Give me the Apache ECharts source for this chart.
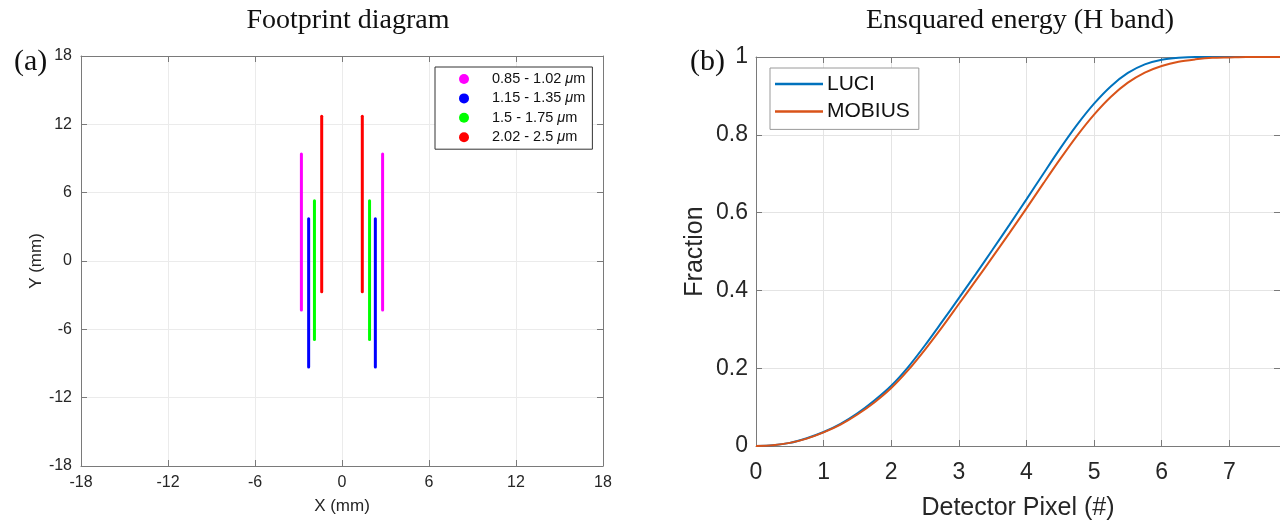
<!DOCTYPE html>
<html>
<head>
<meta charset="utf-8">
<style>
  html, body { margin: 0; padding: 0; background: #fff; }
  #chart { width: 1280px; height: 521px; }
</style>
<script src="https://cdn.jsdelivr.net/npm/echarts@6/dist/echarts.min.js"></script>
</head>
<body>
<div id="chart"></div>
<script>
// ---- Footprint diagram: slit images per wavelength band (mm) ----
const bandNames = ['0.85 - 1.02 μm', '1.15 - 1.35 μm', '1.5 - 1.75 μm', '2.02 - 2.5 μm'];
const bandColors = ['#ff00ff', '#0000ff', '#00ff00', '#ff0000'];
const bandX = [2.8, 2.3, 1.9, 1.4];          // offset of each footprint pair from centre
const bandTop = [9.4, 3.7, 5.3, 12.7];
const bandBottom = [-4.3, -9.3, -6.9, -2.7];
const footTicks = [-18, -12, -6, 0, 6, 12, 18];

// ---- Ensquared energy, H band ----
const pixels = [0, 0.25, 0.5, 0.75, 1, 1.25, 1.5, 1.75, 2, 2.25, 2.5, 2.75, 3, 3.25, 3.5, 3.75,
                4, 4.25, 4.5, 4.75, 5, 5.25, 5.5, 5.75, 6, 6.25, 6.5, 6.75, 7, 7.25, 7.5, 7.75];
const luci = [0, 0.002, 0.008, 0.020, 0.036, 0.057, 0.084, 0.117, 0.155, 0.203, 0.259, 0.319, 0.380, 0.442, 0.505, 0.569,
              0.634, 0.700, 0.765, 0.826, 0.880, 0.925, 0.959, 0.981, 0.993, 0.998, 1, 1, 1, 1, 1, 1];
const mobius = [0, 0.002, 0.008, 0.019, 0.035, 0.055, 0.081, 0.112, 0.149, 0.195, 0.248, 0.305, 0.365, 0.425, 0.486, 0.548,
                0.611, 0.675, 0.738, 0.798, 0.852, 0.898, 0.934, 0.960, 0.977, 0.988, 0.994, 0.998, 0.999, 1, 1, 1];

const SANS = "'Liberation Sans', Arial, sans-serif";
const SERIF = "'Liberation Serif', 'Times New Roman', serif";
const INK = '#262626';
const AXIS = '#7a7a7a';

function frameAxis(extra) {
  return Object.assign({
    axisLine: { show: true, onZero: false, lineStyle: { color: AXIS, width: 1 } },
    axisTick: { show: true, inside: true, length: 6, lineStyle: { color: AXIS } },
    axisLabel: { show: false },
    splitLine: { show: false }
  }, extra);
}

const chart = echarts.init(document.getElementById('chart'), null, { renderer: 'canvas' });

const footSeries = [];
bandNames.forEach((name, i) => {
  [-1, 1].forEach(side => {
    footSeries.push({
      name: name,
      type: 'line',
      xAxisIndex: 0, yAxisIndex: 0,
      data: [[side * bandX[i], bandTop[i]], [side * bandX[i], bandBottom[i]]],
      symbol: 'none',
      lineStyle: { color: bandColors[i], width: 3, cap: 'round' },
      itemStyle: { color: bandColors[i] },
      silent: true
    });
  });
});

const option = {
  animation: false,
  textStyle: { fontFamily: SANS },
  title: [
    { text: 'Footprint diagram', left: 343, top: 2, textAlign: 'center',
      textStyle: { fontFamily: SERIF, fontSize: 28, fontWeight: 'normal', color: '#111' } },
    { text: 'Ensquared energy (H band)', left: 1015, top: 2, textAlign: 'center',
      textStyle: { fontFamily: SERIF, fontSize: 28, fontWeight: 'normal', color: '#111' } },
    { text: '(a)', left: 9, top: 42,
      textStyle: { fontFamily: SERIF, fontSize: 30, fontWeight: 'normal', color: '#111' } },
    { text: '(b)', left: 685, top: 42,
      textStyle: { fontFamily: SERIF, fontSize: 30, fontWeight: 'normal', color: '#111' } }
  ],
  legend: [
    {
      data: bandNames.map(n => ({ name: n, icon: 'circle' })),
      orient: 'vertical', left: 435, top: 67,
      padding: [4, 7, 4, 24],
      itemWidth: 10, itemHeight: 10, itemGap: 3.4,
      selectedMode: false,
      backgroundColor: '#fff', borderColor: '#333', borderWidth: 1, borderRadius: 0,
      formatter: n => n.replace('μ', '{i|μ}'),
      textStyle: {
        fontFamily: SANS, fontSize: 14.5, lineHeight: 16, color: '#111', padding: [0, 0, 0, 18],
        rich: { i: { fontStyle: 'italic', fontFamily: SANS, fontSize: 14.5, color: '#111' } }
      }
    },
    {
      data: [{ name: 'LUCI', icon: 'rect' }, { name: 'MOBIUS', icon: 'rect' }],
      orient: 'vertical', left: 770, top: 68,
      padding: [4, 9, 6, 5],
      itemWidth: 48, itemHeight: 2.5, itemGap: 3.4,
      selectedMode: false,
      backgroundColor: '#fff', borderColor: '#9a9a9a', borderWidth: 1, borderRadius: 0,
      textStyle: { fontFamily: SANS, fontSize: 21, lineHeight: 24, color: '#111', padding: [0, 0, 0, -1] }
    }
  ],
  grid: [
    { left: 81, top: 56, width: 522, height: 410, outerBoundsMode: 'none', containLabel: false },
    { left: 756, top: 57, width: 524, height: 389, outerBoundsMode: 'none', containLabel: false }
  ],
  xAxis: [
    {
      gridIndex: 0, type: 'value', min: footTicks[0], max: footTicks[footTicks.length - 1], interval: 6,
      position: 'bottom',
      name: 'X (mm)', nameLocation: 'middle', nameGap: 32,
      nameTextStyle: { fontFamily: SANS, fontSize: 17, color: INK },
      axisLine: { show: true, onZero: false, lineStyle: { color: AXIS, width: 1 } },
      axisTick: { show: true, inside: true, length: 6, lineStyle: { color: AXIS } },
      axisLabel: { fontFamily: SANS, fontSize: 16, color: INK, margin: 9 },
      splitLine: { show: true, lineStyle: { color: '#ebebeb', width: 1 } }
    },
    frameAxis({ gridIndex: 0, type: 'value', min: -18, max: 18, interval: 6, position: 'top' }),
    {
      gridIndex: 1, type: 'value', min: 0, max: 7.75, interval: 1,
      position: 'bottom',
      name: 'Detector Pixel (#)', nameLocation: 'middle', nameGap: 50,
      nameTextStyle: { fontFamily: SANS, fontSize: 25, color: INK },
      axisLine: { show: true, onZero: false, lineStyle: { color: AXIS, width: 1 } },
      axisTick: { show: true, inside: true, length: 6, lineStyle: { color: AXIS } },
      axisLabel: { fontFamily: SANS, fontSize: 23, color: INK, margin: 15, showMaxLabel: false },
      splitLine: { show: true, lineStyle: { color: '#e4e4e4', width: 1 } }
    },
    frameAxis({ gridIndex: 1, type: 'value', min: 0, max: 7.75, interval: 1, position: 'top' })
  ],
  yAxis: [
    {
      gridIndex: 0, type: 'value', min: footTicks[0], max: footTicks[footTicks.length - 1], interval: 6,
      position: 'left',
      name: 'Y (mm)', nameLocation: 'middle', nameGap: 32, nameRotate: 90,
      nameTextStyle: { fontFamily: SANS, fontSize: 17, color: INK },
      axisLine: { show: true, onZero: false, lineStyle: { color: AXIS, width: 1 } },
      axisTick: { show: true, inside: true, length: 6, lineStyle: { color: AXIS } },
      axisLabel: { fontFamily: SANS, fontSize: 16, color: INK, margin: 9 },
      splitLine: { show: true, lineStyle: { color: '#ebebeb', width: 1 } }
    },
    frameAxis({ gridIndex: 0, type: 'value', min: -18, max: 18, interval: 6, position: 'right' }),
    {
      gridIndex: 1, type: 'value', min: 0, max: 1, interval: 0.2,
      position: 'left',
      name: 'Fraction', nameLocation: 'middle', nameGap: 48, nameRotate: 90,
      nameTextStyle: { fontFamily: SANS, fontSize: 25, color: INK },
      axisLine: { show: true, onZero: false, lineStyle: { color: AXIS, width: 1 } },
      axisTick: { show: true, inside: true, length: 6, lineStyle: { color: AXIS } },
      axisLabel: { fontFamily: SANS, fontSize: 23, color: INK, margin: 8 },
      splitLine: { show: true, lineStyle: { color: '#e4e4e4', width: 1 } }
    },
    frameAxis({ gridIndex: 1, type: 'value', min: 0, max: 1, interval: 0.2, position: 'right' })
  ],
  series: footSeries.concat([
    {
      name: 'LUCI', type: 'line', xAxisIndex: 2, yAxisIndex: 2,
      data: pixels.map((p, i) => [p, luci[i]]),
      symbol: 'none', smooth: 0.3,
      lineStyle: { color: '#0072bd', width: 2 }, itemStyle: { color: '#0072bd' }
    },
    {
      name: 'MOBIUS', type: 'line', xAxisIndex: 2, yAxisIndex: 2,
      data: pixels.map((p, i) => [p, mobius[i]]),
      symbol: 'none', smooth: 0.3,
      lineStyle: { color: '#d95319', width: 2 }, itemStyle: { color: '#d95319' }
    }
  ])
};

chart.setOption(option);
</script>
</body>
</html>
